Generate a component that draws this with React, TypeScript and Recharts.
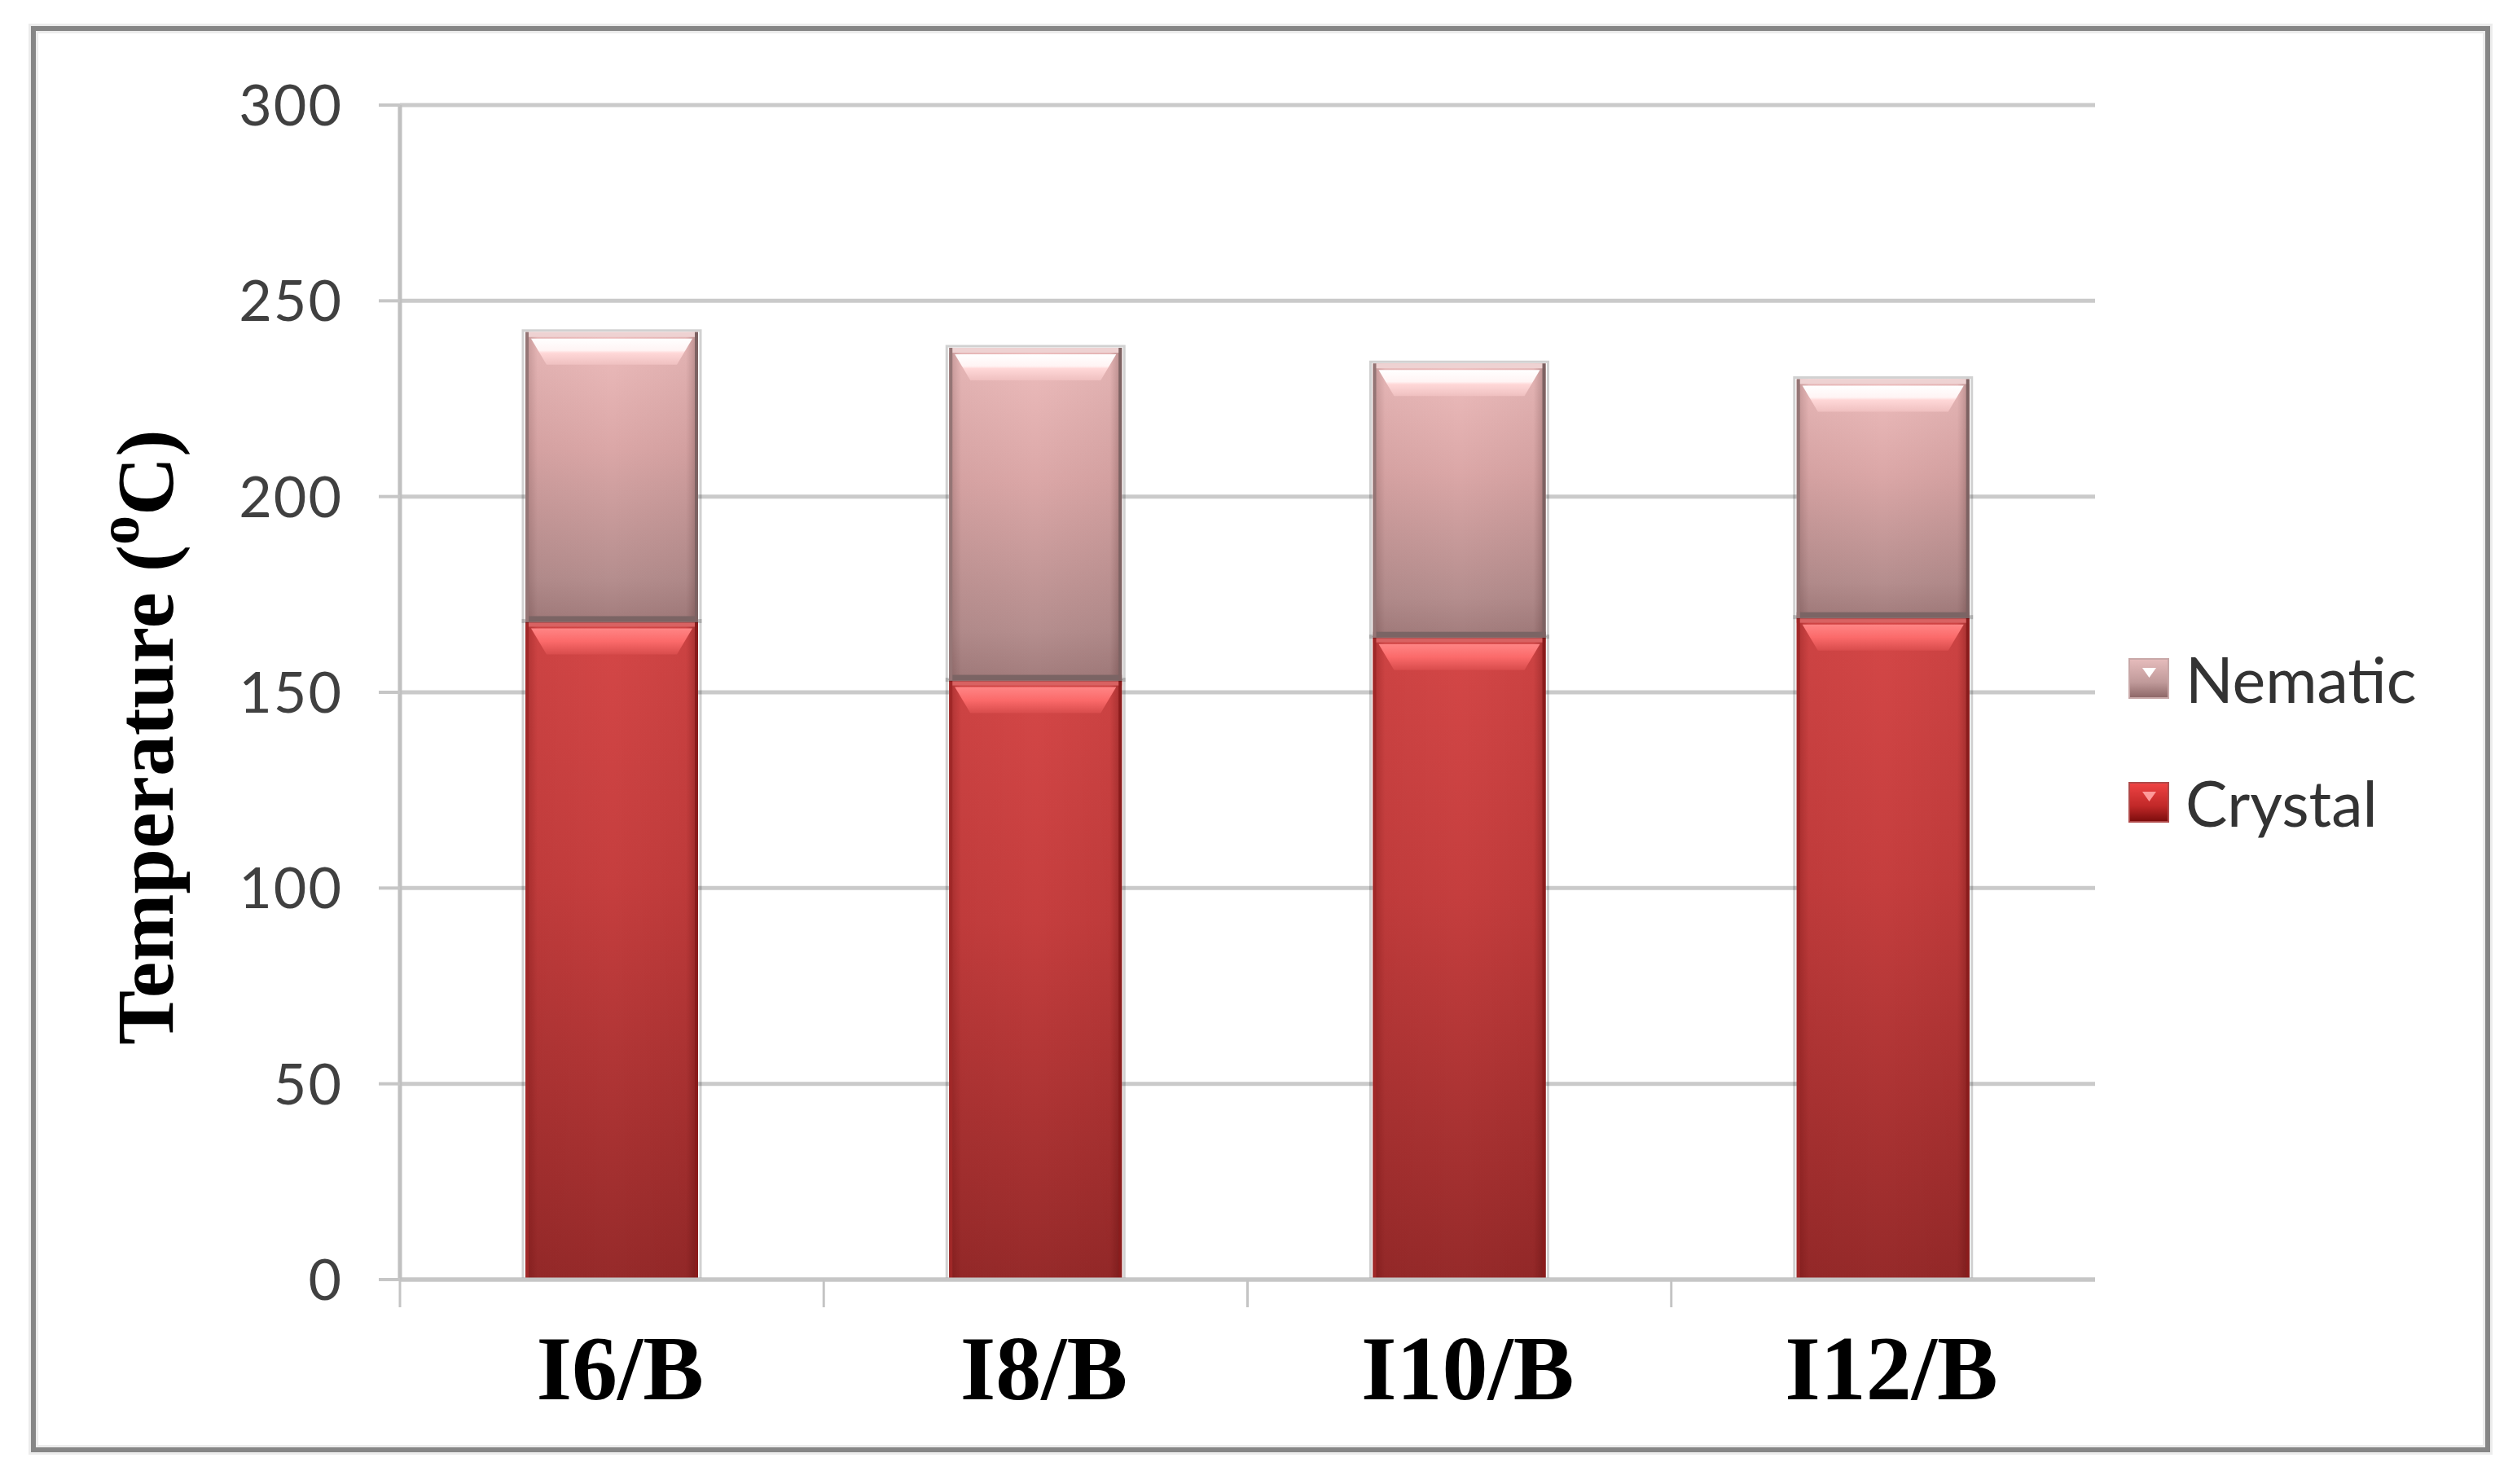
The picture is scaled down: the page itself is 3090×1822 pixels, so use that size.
import React from 'react';
import { BarChart, Bar, XAxis, YAxis, CartesianGrid, Legend } from 'recharts';

const categories = ['I6/B', 'I8/B', 'I10/B', 'I12/B'];
const crystalValues = [168, 153, 164, 169];
const nematicValues = [74, 85, 70, 61];
const yTicks = [0, 50, 100, 150, 200, 250, 300];
const seriesNames = { crystal: 'Crystal', nematic: 'Nematic' };

const data = categories.map((c, i) => ({
  name: c,
  crystal: crystalValues[i],
  nematic: nematicValues[i],
}));

const GlassBar = (props: any) => {
  const { x, y, width, height, kind } = props;
  if (width == null || height == null || height <= 0) return null;
  const isC = kind === 'crystal';
  const bev = Math.min(40, height * 0.3);
  return (
    <g>
      <rect x={x - 3} y={y - 2} width={width + 6} height={height + 2} fill="none" stroke="rgba(0,0,0,0.18)" strokeWidth={3} />
      <rect x={x} y={y} width={width} height={height} fill={isC ? 'url(#crystalV)' : 'url(#nematicV)'} />
      <rect x={x} y={y} width={width} height={height} fill={isC ? 'url(#crystalH)' : 'url(#nematicH)'} />
      <rect x={x} y={y} width={width} height={6} fill={isC ? '#d96262' : '#eed2d2'} />
      <polygon
        points={`${x + 7},${y + 8} ${x + width - 7},${y + 8} ${x + width - 26},${y + bev} ${x + 26},${y + bev}`}
        fill={isC ? 'url(#crystalBevel)' : 'url(#nematicBevel)'}
      />
      {!isC && <rect x={x} y={y + height - 7} width={width} height={7} fill="#7b6464" />}
      <line x1={x + 2} x2={x + 2} y1={y} y2={y + height} stroke={isC ? '#a02828' : '#957575'} strokeWidth={4} />
      <line x1={x + width - 2} x2={x + width - 2} y1={y} y2={y + height} stroke={isC ? '#8a1c1c' : '#7d6262'} strokeWidth={4} />
    </g>
  );
};

const XTick = (props: any) => {
  const { x, y, payload, width, visibleTicksCount } = props;
  const half = payload && typeof payload.offset === 'number' && payload.offset > 0
    ? payload.offset
    : width / (visibleTicksCount || 1) / 2;
  return (
    <g>
      <line x1={x - half} x2={x - half} y1={y} y2={y + 34} stroke="#c4c4c4" strokeWidth={3} />
      <text
        x={x + 10}
        y={y + 147}
        textAnchor="middle"
        fontFamily="'Liberation Serif', 'Times New Roman', serif"
        fontWeight="bold"
        fontSize={112}
        fill="#000"
      >
        {payload.value}
      </text>
    </g>
  );
};

const YLabel = (props: any) => {
  const vb = props.viewBox || { x: 0, y: 0, width: 0, height: 0 };
  const bx = vb.x + 212;
  const cy = vb.y + vb.height / 2 + 55;
  return (
    <text
      x={bx}
      y={cy}
      transform={`rotate(-90, ${bx}, ${cy})`}
      textAnchor="middle"
      fontFamily="'Liberation Serif', 'Times New Roman', serif"
      fontWeight="bold"
      fontSize={100}
      fill="#000"
    >
      <tspan>Temperature (</tspan>
      <tspan fontSize={72} dy={-42}>o</tspan>
      <tspan dy={42}>C)</tspan>
    </text>
  );
};

const Marker = ({ kind }: { kind: string }) => {
  const isC = kind === 'crystal';
  return (
    <svg width={50} height={50} style={{ display: 'block' }}>
      <rect x={1} y={1} width={48} height={48} fill={isC ? 'url(#crystalM)' : 'url(#nematicM)'} stroke={isC ? '#b04a4a' : '#c8a8a8'} strokeWidth={2} />
      <polygon points="17,12 34,12 25.5,24" fill={isC ? '#ff9a9a' : '#ffffff'} />
    </svg>
  );
};

const LegendContent = (props: any) => {
  const items = [...(props.payload || [])].reverse();
  return (
    <div style={{ display: 'flex', flexDirection: 'column' }}>
      {items.map((it: any) => (
        <div key={it.dataKey} style={{ display: 'flex', alignItems: 'center', height: 152 }}>
          <Marker kind={it.dataKey} />
          <span style={{ marginLeft: 20, fontFamily: 'Lato, sans-serif', fontSize: 77, color: '#333', lineHeight: 1 }}>
            {it.value}
          </span>
        </div>
      ))}
    </div>
  );
};

export default function App() {
  return (
    <div style={{ position: 'absolute', left: 0, top: 0, width: 3090, height: 1822, background: '#fff' }}>
      <div
        style={{
          position: 'absolute',
          left: 38,
          top: 32,
          width: 3019,
          height: 1751,
          boxSizing: 'border-box',
          border: '6px solid #868686',
          boxShadow: '0 0 0 3px #ececec, inset 0 0 0 3px #ececec',
        }}
      />
      <BarChart
        width={3090}
        height={1822}
        data={data}
        margin={{ top: 129, right: 518, bottom: 0, left: 0 }}
        barSize={212}
        style={{ position: 'absolute', left: 0, top: 0 }}
      >
        <defs>
          <linearGradient id="crystalV" x1="0" y1="0" x2="0" y2="1">
            <stop offset="0%" stopColor="#d44747" />
            <stop offset="40%" stopColor="#c53e3e" />
            <stop offset="100%" stopColor="#962a2a" />
          </linearGradient>
          <linearGradient id="nematicV" x1="0" y1="0" x2="0" y2="1">
            <stop offset="0%" stopColor="#edbdbd" />
            <stop offset="40%" stopColor="#dba7a7" />
            <stop offset="85%" stopColor="#b58e8e" />
            <stop offset="100%" stopColor="#a27c7c" />
          </linearGradient>
          <linearGradient id="crystalH" x1="0" y1="0" x2="1" y2="0">
            <stop offset="0%" stopColor="#500000" stopOpacity={0.3} />
            <stop offset="7%" stopColor="#500000" stopOpacity={0.05} />
            <stop offset="50%" stopColor="#500000" stopOpacity={0} />
            <stop offset="93%" stopColor="#500000" stopOpacity={0.06} />
            <stop offset="100%" stopColor="#400000" stopOpacity={0.35} />
          </linearGradient>
          <linearGradient id="nematicH" x1="0" y1="0" x2="1" y2="0">
            <stop offset="0%" stopColor="#402020" stopOpacity={0.25} />
            <stop offset="7%" stopColor="#402020" stopOpacity={0.04} />
            <stop offset="50%" stopColor="#402020" stopOpacity={0} />
            <stop offset="93%" stopColor="#402020" stopOpacity={0.05} />
            <stop offset="100%" stopColor="#301010" stopOpacity={0.3} />
          </linearGradient>
          <linearGradient id="crystalBevel" x1="0" y1="0" x2="0" y2="1">
            <stop offset="0%" stopColor="#ff8585" />
            <stop offset="50%" stopColor="#fb6a6a" />
            <stop offset="100%" stopColor="#d84c4c" />
          </linearGradient>
          <linearGradient id="nematicBevel" x1="0" y1="0" x2="0" y2="1">
            <stop offset="0%" stopColor="#ffffff" />
            <stop offset="45%" stopColor="#fff4f4" />
            <stop offset="55%" stopColor="#ffd8d8" />
            <stop offset="100%" stopColor="#efc0c0" />
          </linearGradient>
          <linearGradient id="crystalM" x1="0" y1="0" x2="0" y2="1">
            <stop offset="0%" stopColor="#f04444" />
            <stop offset="60%" stopColor="#c02828" />
            <stop offset="100%" stopColor="#7a0c0c" />
          </linearGradient>
          <linearGradient id="nematicM" x1="0" y1="0" x2="0" y2="1">
            <stop offset="0%" stopColor="#e6bcbc" />
            <stop offset="60%" stopColor="#c09a9a" />
            <stop offset="100%" stopColor="#8c6666" />
          </linearGradient>
        </defs>
        <CartesianGrid vertical={false} stroke="#cacaca" strokeWidth={5} />
        <XAxis
          dataKey="name"
          height={251}
          tickLine={false}
          tickSize={0}
          tickMargin={0}
          axisLine={{ stroke: '#c6c6c6', strokeWidth: 5 }}
          tick={<XTick />}
          interval={0}
        />
        <YAxis
          width={491}
          domain={[0, 300]}
          ticks={yTicks}
          interval={0}
          tickSize={26}
          tickMargin={44}
          tickLine={{ stroke: '#c6c6c6', strokeWidth: 4 }}
          axisLine={{ stroke: '#c0c0c0', strokeWidth: 5 }}
          tick={{ fontFamily: 'Lato, sans-serif', fontSize: 70, fill: '#404040', letterSpacing: 2 }}
          label={<YLabel />}
        />
        <Legend
          layout="vertical"
          align="center"
          verticalAlign="middle"
          wrapperStyle={{ left: 2613, top: 757, width: 450 }}
          content={<LegendContent />}
        />
        <Bar
          dataKey="crystal"
          name={seriesNames.crystal}
          stackId="a"
          fill="#c53e3e"
          isAnimationActive={false}
          shape={(p: any) => <GlassBar {...p} kind="crystal" />}
        />
        <Bar
          dataKey="nematic"
          name={seriesNames.nematic}
          stackId="a"
          fill="#dba7a7"
          isAnimationActive={false}
          shape={(p: any) => <GlassBar {...p} kind="nematic" />}
        />
      </BarChart>
    </div>
  );
}
